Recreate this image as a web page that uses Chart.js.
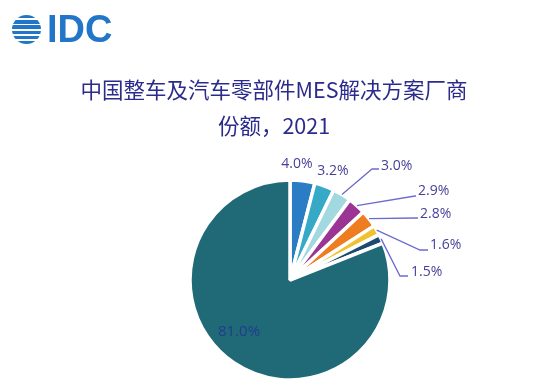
<!DOCTYPE html>
<html>
<head>
<meta charset="utf-8">
<script src="https://cdn.jsdelivr.net/npm/chart.js@4.4.1/dist/chart.umd.min.js"></script>
<style>
  html, body { margin:0; padding:0; background:#ffffff; width:551px; height:383px; overflow:hidden; }
  #wrap { position:relative; width:551px; height:383px; }
  #c { position:absolute; left:0; top:0; }
  .logo { position:absolute; left:12px; top:10px; height:38px; display:flex; align-items:center; }
  .globe { width:29px; height:29px; border-radius:50%;
    background: repeating-linear-gradient(180deg, #2176c7 0px, #2176c7 3.4px, #ffffff 3.4px, #ffffff 5.2px); }
  .idc { font-family: "Liberation Sans", Arial, sans-serif; font-weight:bold; font-size:38px; color:#2176c7; margin-left:6px; line-height:38px; }
  .title { position:absolute; left:0; width:548px; text-align:center; font-family:"Noto Sans CJK SC", sans-serif; color:#2b2b8c; font-size:21.5px; line-height:24px; }
</style>
</head>
<body>
<div id="wrap">
  <canvas id="c" width="551" height="383"></canvas>
  <div class="logo"><div class="globe"></div><div class="idc">IDC</div></div>
  <div class="title" style="top:77px;">中国整车及汽车零部件MES解决方案厂商</div>
  <div class="title" style="top:113px;">份额，2021</div>
</div>
<script>
// ---- data ----
const vendors = ["厂商A", "厂商B", "厂商C", "厂商D", "厂商E", "厂商F", "厂商G", "其他"];
const shares = [4.0, 3.2, 3.0, 2.9, 2.8, 1.6, 1.5, 81.0];
const shareLabels = ["4.0%", "3.2%", "3.0%", "2.9%", "2.8%", "1.6%", "1.5%", "81.0%"];
const sliceColors = ["#2a7cc4", "#35a9c6", "#a2d9e1", "#9a3495", "#ee7d22", "#f0c232", "#1e4a72", "#206a77"];

// ---- label layout (units of radius, relative to pie centre) ----
const labelLayout = [
  { text:[0.07,-1.16], align:"center" },
  { text:[0.43,-1.09], align:"center" },
  { text:[0.91,-1.14], elbow:[0.82,-1.11], end:0.89, align:"left" },
  { text:[1.28,-0.89], elbow:[1.25,-0.84], end:1.26, align:"left" },
  { text:[1.30,-0.66], elbow:[1.26,-0.62], end:1.28, align:"left" },
  { text:[1.40,-0.35], elbow:[1.30,-0.30], end:1.38, align:"left" },
  { text:[1.21,-0.08], elbow:[1.10,-0.04], end:1.18, align:"left" },
  { text:[-0.51,0.52], align:"center", color:"#1f3d8c" }
];

const labelPlugin = {
  id: "pieLabels",
  afterDatasetsDraw(chart) {
    const ctx = chart.ctx;
    const meta = chart.getDatasetMeta(0);
    ctx.save();
    meta.data.forEach((el, i) => {
      const p = el.getProps(["x","y","startAngle","endAngle","outerRadius"], true);
      const r = p.outerRadius;
      const L = labelLayout[i];
      const mid = (p.startAngle + p.endAngle) / 2;
      if (L.elbow) {
        const ax = p.x + Math.cos(mid) * r;
        const ay = p.y + Math.sin(mid) * r;
        const ex = p.x + L.elbow[0] * r;
        const ey = p.y + L.elbow[1] * r;
        ctx.beginPath();
        ctx.strokeStyle = "#6d6bcf";
        ctx.lineWidth = 1.3;
        ctx.moveTo(ax, ay);
        ctx.lineTo(ex, ey);
        ctx.lineTo(p.x + L.end * r, ey);
        ctx.stroke();
      }
      ctx.fillStyle = L.color || "#463f98";
      ctx.font = (L.color ? "15px" : "14px") + " 'Open Sans', sans-serif";
      ctx.textAlign = L.align;
      ctx.textBaseline = "middle";
      ctx.fillText(shareLabels[i], p.x + L.text[0] * r, p.y + L.text[1] * r);
    });
    ctx.restore();
  }
};

new Chart(document.getElementById("c"), {
  type: "pie",
  data: {
    labels: vendors,
    datasets: [{
      data: shares,
      backgroundColor: sliceColors,
      borderColor: "#ffffff",
      borderWidth: 3.5
    }]
  },
  options: {
    responsive: false,
    animation: false,
    radius: 100,
    layout: { padding: { left: 190, right: 161, top: 180, bottom: 3 } },
    plugins: { legend: { display: false }, tooltip: { enabled: false }, title: { display: false } }
  },
  plugins: [labelPlugin]
});
</script>
</body>
</html>
